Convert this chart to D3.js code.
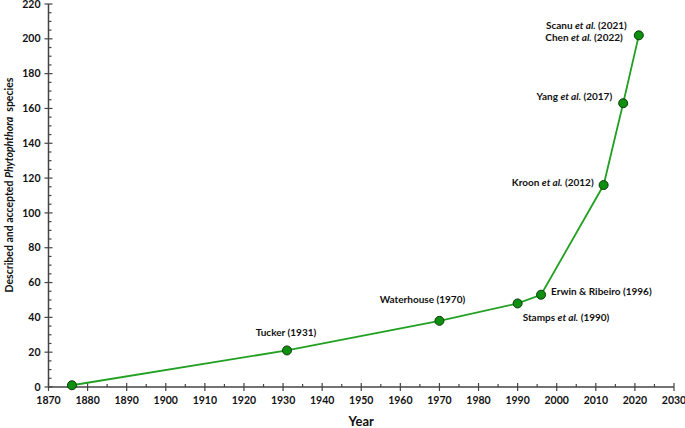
<!DOCTYPE html>
<html><head><meta charset="utf-8">
<script src="https://cdn.jsdelivr.net/npm/d3@7"></script>
<style>body{margin:0;background:#fff}svg{display:block}text{font-family:Lato,"Open Sans",sans-serif;font-weight:bold;fill:#111}</style>
</head><body><svg id="c" width="685" height="428"></svg>
<script>
const years = [1876, 1931, 1970, 1990, 1996, 2012, 2017, 2021];
const species = [1, 21, 38, 48, 53, 116, 163, 202];
const xTicks = d3.range(1870, 2031, 10);
const yTicks = d3.range(0, 221, 20);
const notes = [
  {parts:[["Tucker ",0],["(1931)",0]], x:1931, y:21, dx:-1, dy:-18, anchor:"middle"},
  {parts:[["Waterhouse (1970)",0]], x:1970, y:38, dx:-17, dy:-21, anchor:"middle"},
  {parts:[["Stamps ",0],["et al.",1],[" (1990)",0]], x:1990, y:48, dx:5, dy:14, anchor:"start"},
  {parts:[["Erwin & Ribeiro (1996)",0]], x:1996, y:53, dx:10, dy:-3, anchor:"start"},
  {parts:[["Kroon ",0],["et al.",1],[" (2012)",0]], x:2012, y:116, dx:-10, dy:-3, anchor:"end"},
  {parts:[["Yang ",0],["et al.",1],[" (2017)",0]], x:2017, y:163, dx:-11, dy:-7, anchor:"end"},
  {parts:[["Scanu ",0],["et al.",1],[" (2021)",0]], x:2021, y:202, dx:-12, dy:-10, anchor:"end"},
  {parts:[["Chen ",0],["et al.",1],[" (2022)",0]], x:2021, y:202, dx:-16, dy:2, anchor:"end"}
];
const svg = d3.select("#c");
const x = d3.scaleLinear().domain([1870, 2030]).range([48.5, 674]);
const y = d3.scaleLinear().domain([0, 220]).range([387, 4]);
const axCol = "#444";
const gy = svg.append("g");
gy.append("line").attr("x1",x(1870)).attr("x2",x(1870)).attr("y1",y(0)).attr("y2",y(220)).attr("stroke",axCol).attr("stroke-width",1.5);
d3.range(0,221,5).forEach(v=>{
  const major = v%20===0;
  gy.append("line").attr("x1",x(1870)-(major?4:0)).attr("x2",x(1870)+(major?4:3))
    .attr("y1",y(v)).attr("y2",y(v)).attr("stroke",axCol).attr("stroke-width",1.2);
});
yTicks.forEach(v=>{
  gy.append("text").attr("x",x(1870)-8).attr("y",y(v)).attr("dy","0.35em").attr("text-anchor","end").attr("font-size",10.5).text(v);
});
const gx = svg.append("g");
gx.append("line").attr("x1",x(1870)).attr("x2",x(2030)).attr("y1",y(0)).attr("y2",y(0)).attr("stroke",axCol).attr("stroke-width",1.5);
d3.range(1870,2031,5).forEach(v=>{
  const major = v%10===0;
  gx.append("line").attr("x1",x(v)).attr("x2",x(v)).attr("y1",y(0)-(major?4:3)).attr("y2",y(0)+(major?4:0))
    .attr("stroke",axCol).attr("stroke-width",1.2);
});
xTicks.forEach(v=>{
  gx.append("text").attr("x",x(v)).attr("y",y(0)+13).attr("dy","0.35em").attr("text-anchor","middle").attr("font-size",10.5).text(v);
});
svg.append("text").attr("x",x(1950)).attr("y",421).attr("dy","0.35em").attr("text-anchor","middle").attr("font-size",13).text("Year");
const yt = svg.append("text").attr("transform","translate(9,185) rotate(-90)").attr("dy","0.35em").attr("text-anchor","middle").attr("font-size",10.5);
yt.append("tspan").text("Described and accepted ");
yt.append("tspan").attr("font-style","italic").text("Phytophthora");
yt.append("tspan").text("\u00a0 species");
const data = years.map((d,i)=>({x:d,y:species[i]}));
svg.append("path").datum(data).attr("fill","none").attr("stroke","#22a022").attr("stroke-width",1.8)
  .attr("d",d3.line().x(d=>x(d.x)).y(d=>y(d.y)));
svg.selectAll("circle.pt").data(data).join("circle").attr("class","pt")
  .attr("cx",d=>x(d.x)).attr("cy",d=>y(d.y)).attr("r",4.5)
  .attr("fill","#0f8f0f").attr("stroke","#0a3a0a").attr("stroke-width",1);
notes.forEach(n=>{
  const t = svg.append("text").attr("x",x(n.x)+n.dx).attr("y",y(n.y)+n.dy).attr("dy","0.35em")
    .attr("text-anchor",n.anchor).attr("font-size",10);
  n.parts.forEach(p=>{
    const s = t.append("tspan").text(p[0].replace(/ /g,"\u00a0"));
    if(p[1]) s.attr("font-style","italic");
  });
});
</script></body></html>
